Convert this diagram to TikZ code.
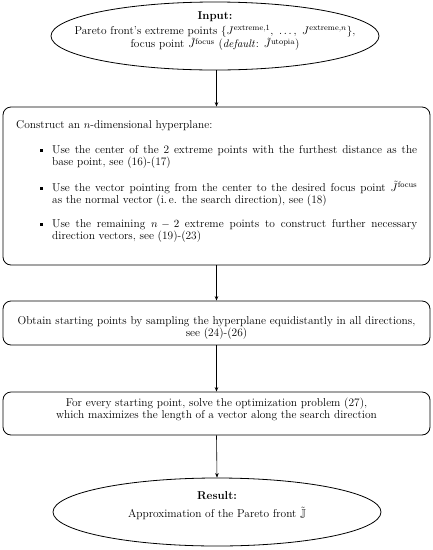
\documentclass[tikz,border=0pt]{standalone}
\usepackage{amsmath,amssymb}
\usepackage{enumitem}
\usetikzlibrary{shapes.geometric,arrows.meta}
\newcommand{\reffont}{\fontsize{11.4pt}{12pt}\selectfont}
\begin{document}
\begin{tikzpicture}[x=1pt,y=-1pt,
  shapeline/.style={draw, line width=0.8pt},
  term/.style={shapeline, ellipse, minimum width=328pt, minimum height=68pt, inner sep=0pt},
  stepbox/.style={shapeline, rectangle, rounded corners=8pt, minimum width=427pt, inner sep=0pt},
  txt/.style={inner sep=0pt, align=center, font=\reffont},
  conn/.style={line width=0.6pt, -{Stealth[length=4.5pt,width=3.5pt]}}]
\useasboundingbox (0,0) rectangle (433,550);
% shapes
\node[term] (in) at (215,36) {};
\node[stepbox, minimum height=158pt] (b1) at (216.5,186) {};
\node[stepbox, minimum height=44pt] (b2) at (216.5,323) {};
\node[stepbox, minimum height=43pt] (b3) at (216.5,413.5) {};
\node[term] (out) at (217,512) {};
% texts
\node[txt, font=\fontsize{11.4pt}{13.5pt}\selectfont] (intext) at (215,31.5) {\textbf{Input:}\\[1pt]
  Pareto front's extreme points $\{J^{\mathrm{extreme},1},\ \ldots,\ J^{\mathrm{extreme},n}\}$,\\
  focus point $\tilde{J}^{\mathrm{focus}}$ ($\mathit{default}$: $\tilde{J}^{\mathrm{utopia}}$)};
\node[inner sep=0pt, anchor=north west, font=\reffont] (b1text) at (16,120) {\begin{minipage}{401pt}\reffont
Construct an $n$-dimensional hyperplane:
\begin{itemize}[leftmargin=36pt, labelsep=9pt, topsep=13pt, itemsep=12pt, parsep=0pt, partopsep=0pt,
  label={\rule[1.3pt]{3pt}{3pt}}]
\item Use the center of the 2 extreme points with the furthest distance as the\linebreak base point, see (16)-(17)
\item Use the vector pointing from the center to the desired focus point $\tilde{J}^{\mathrm{focus}}$\linebreak as the normal vector (i.\,e. the search direction), see (18)
\item Use the remaining $n-2$ extreme points to construct further necessary\linebreak direction vectors, see (19)-(23)
\end{itemize}
\end{minipage}};
\node[txt] (b2text) at (216.5,328) {Obtain starting points by sampling the hyperplane equidistantly in all directions,\\ see (24)-(26)};
\node[txt] (b3text) at (216.5,409.5) {For every starting point, solve the optimization problem (27),\\ which maximizes the length of a vector along the search direction};
\node[txt] (outtext) at (217,506) {\textbf{Result:}\\[6pt] Approximation of the Pareto front $\tilde{\mathbb{J}}$};
% connectors
\draw[conn] (in.south -| b1.north) -- (b1.north);
\draw[conn] (b1.south) -- (b2.north);
\draw[conn] (b2.south) -- (b3.north);
\draw[conn] (b3.south) -- (out.north);
\end{tikzpicture}
\end{document}
